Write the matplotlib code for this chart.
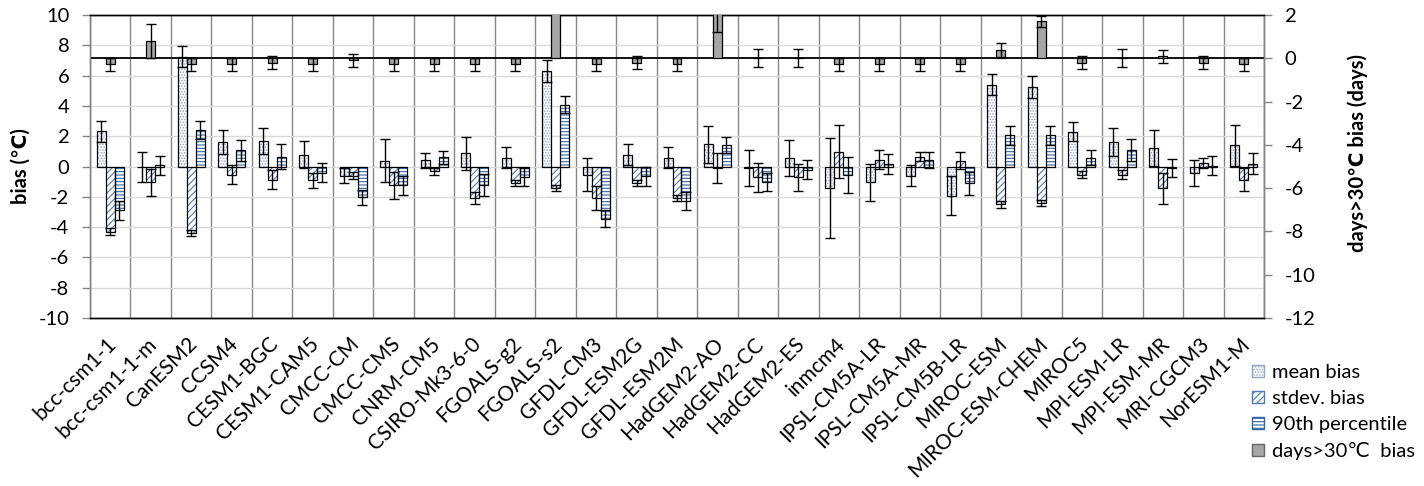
import matplotlib
matplotlib.use('Agg')
import matplotlib.pyplot as plt
import matplotlib.transforms as mtransforms
from matplotlib.patches import Patch
import numpy as np

plt.rcParams['font.family'] = ['Lato', 'DejaVu Sans']
plt.rcParams['hatch.linewidth'] = 0.8

models = ['bcc-csm1-1', 'bcc-csm1-1-m', 'CanESM2', 'CCSM4', 'CESM1-BGC', 'CESM1-CAM5',
          'CMCC-CM', 'CMCC-CMS', 'CNRM-CM5', 'CSIRO-Mk3-6-0', 'FGOALS-g2', 'FGOALS-s2',
          'GFDL-CM3', 'GFDL-ESM2G', 'GFDL-ESM2M', 'HadGEM2-AO', 'HadGEM2-CC', 'HadGEM2-ES',
          'inmcm4', 'IPSL-CM5A-LR', 'IPSL-CM5A-MR', 'IPSL-CM5B-LR', 'MIROC-ESM',
          'MIROC-ESM-CHEM', 'MIROC5', 'MPI-ESM-LR', 'MPI-ESM-MR', 'MRI-CGCM3', 'NorESM1-M']

mean_bias = [2.33, -0.05, 7.25, 1.6, 1.68, 0.78, -0.6, 0.38, 0.4, 0.87, 0.57, 6.3, -0.53, 0.78,
             0.59, 1.47, -0.1, 0.58, -1.45, -1.05, -0.62, -1.92, 5.4, 5.27, 2.29, 1.6, 1.21,
             -0.42, 1.39]
mean_err = [0.7, 1.0, 0.7, 0.8, 0.83, 0.9, 0.52, 1.42, 0.47, 1.08, 0.69, 0.7, 1.12, 0.7, 0.67,
            1.22, 1.2, 1.2, 3.3, 1.22, 0.7, 1.3, 0.7, 0.73, 0.63, 0.93, 1.2, 0.88, 1.37]

stdev_bias = [-4.3, -1.05, -4.4, -0.53, -0.86, -0.92, -0.6, -1.25, -0.33, -2.1, -1.08, -1.45,
              -2.1, -1.1, -2.05, -0.12, -0.72, -0.72, 0.99, 0.46, 0.66, 0.39, -2.5, -2.43,
              -0.53, -0.53, -1.45, 0.24, -0.86]
stdev_err = [0.25, 0.87, 0.2, 0.6, 0.6, 0.5, 0.25, 0.9, 0.2, 0.4, 0.2, 0.2, 0.8, 0.2, 0.2, 1.0,
             0.98, 0.9, 1.72, 0.6, 0.3, 0.58, 0.22, 0.2, 0.2, 0.3, 1.0, 0.35, 0.79]

p90_bias = [-2.9, 0.07, 2.4, 1.08, 0.66, -0.42, -2.02, -1.25, 0.6, -1.22, -0.68, 4.08, -3.44,
            -0.66, -2.3, 1.41, -1.05, -0.22, -0.53, 0.16, 0.42, -1.12, 2.07, 2.07, 0.58, 1.08,
            -0.1, 0.05, 0.18]
p90_err = [0.65, 0.6, 0.6, 0.7, 0.8, 0.63, 0.5, 0.6, 0.45, 0.7, 0.6, 0.58, 0.58, 0.6, 0.6, 0.55,
           0.6, 0.62, 1.19, 0.68, 0.55, 0.73, 0.63, 0.63, 0.5, 0.72, 0.6, 0.63, 0.69]

days_bias = [-0.28, 0.8, -0.28, -0.28, -0.2, -0.28, -0.08, -0.28, -0.28, -0.28, -0.28, 4.0,
             -0.28, -0.2, -0.28, 2.4, 0.0, 0.0, -0.28, -0.28, -0.28, -0.28, 0.4, 1.7, -0.2,
             0.0, 0.1, -0.2, -0.28]
days_err = [0.3, 0.8, 0.3, 0.3, 0.3, 0.3, 0.3, 0.3, 0.3, 0.3, 0.3, 1.5, 0.3, 0.3, 0.3, 1.2,
            0.41, 0.41, 0.3, 0.3, 0.3, 0.3, 0.32, 0.27, 0.3, 0.41, 0.3, 0.3, 0.3]

left_ticks = list(range(-10, 11, 2))
right_ticks = list(range(-12, 3, 2))

C_MEAN = '#8fa9cf'
C_STD = '#4a7ebb'
C_P90 = '#2f67a8'
C_DAYS = '#a6a6a6'
C_AXIS = '#868686'
FS = 14.5

fig = plt.figure(figsize=(14.24, 4.86), dpi=100)
ax = fig.add_axes([90/1424, 1-318/486, (1264-90)/1424, (318-15)/486])

x = np.arange(len(models))
w = 1/4.5


def draw(axis, xpos, vals, errs, hatch, hc, face='white'):
    axis.bar(xpos, vals, w, color=face, edgecolor=hc, hatch=hatch, linewidth=0, zorder=2)
    axis.bar(xpos, vals, w, fill=False, edgecolor='black', linewidth=0.9, zorder=3)
    axis.errorbar(xpos, vals, yerr=errs, fmt='none', ecolor='black', elinewidth=1.0,
                  capsize=3.6, capthick=1.0, zorder=4)


draw(ax, x - w, mean_bias, mean_err, '......', C_MEAN)
draw(ax, x, stdev_bias, stdev_err, '/////', C_STD)
draw(ax, x + w, p90_bias, p90_err, '-----', C_P90)

ax.set_xlim(-0.5, len(models) - 0.5)
ax.set_ylim(-10, 10)
ax.set_yticks(left_ticks)
ax.set_yticklabels([str(t) for t in left_ticks], fontsize=FS)
ax.set_axisbelow(True)
ax.yaxis.grid(True, color='#d9d9d9', linewidth=1.0)
ax.set_xticks(np.arange(-0.5, len(models), 1), minor=True)
ax.xaxis.grid(True, which='minor', color=C_AXIS, linewidth=1.0)
ax.set_xticks(x)
ax.set_xticklabels(models, rotation=45, ha='right', va='center', rotation_mode='anchor',
                   fontsize=15)
ax.tick_params(axis='x', which='both', length=0, pad=16.5)
ax.tick_params(axis='y', length=5.8, color=C_AXIS, width=1, pad=9)
offset = mtransforms.ScaledTranslation(3/100, 0, fig.dpi_scale_trans)
for lab in ax.get_xticklabels():
    lab.set_transform(lab.get_transform() + offset)

ax.set_ylabel('bias (℃)', fontsize=FS, fontweight='bold')
ax.yaxis.set_label_coords((31-90)/1174, 0.5)

ax2 = ax.twinx()
ax2.axhline(0, color='black', linewidth=1.3, zorder=1)
ax2.bar(x, days_bias, w, color=C_DAYS, edgecolor='black', linewidth=0.9, zorder=3)
ax2.errorbar(x, days_bias, yerr=days_err, fmt='none', ecolor='black', elinewidth=1.0,
             capsize=3.6, capthick=1.0, zorder=4)
ax2.set_ylim(-12, 2)
ax2.set_yticks(right_ticks)
ax2.set_yticklabels([str(t) for t in right_ticks], fontsize=FS)
ax2.tick_params(axis='y', length=5.8, color=C_AXIS, width=1, pad=9)
ax2.set_ylabel('days>30℃ bias (days)', fontsize=FS, fontweight='bold')
ax2.yaxis.set_label_coords((1347-90)/1174, 0.545)

for a in (ax, ax2):
    a.spines['top'].set_color('black')
    a.spines['bottom'].set_color('black')
    a.spines['left'].set_color(C_AXIS)
    a.spines['right'].set_color(C_AXIS)
    for s in a.spines.values():
        s.set_linewidth(1.0)

handles = [Patch(facecolor='white', edgecolor=C_MEAN, hatch='......'),
           Patch(facecolor='white', edgecolor=C_STD, hatch='/////'),
           Patch(facecolor='white', edgecolor=C_P90, hatch='-----'),
           Patch(facecolor=C_DAYS, edgecolor='#666666')]
labels = ['mean bias', 'stdev. bias', '90th percentile', 'days>30℃  bias']
fig.legend(handles, labels, loc='upper left', bbox_to_anchor=(1252/1424, 1-364/486),
           frameon=False, fontsize=FS, handlelength=0.6, handleheight=0.6,
           handletextpad=0.4, labelspacing=0.45, borderpad=0, borderaxespad=0)

fig.savefig('out.png', dpi=100)
